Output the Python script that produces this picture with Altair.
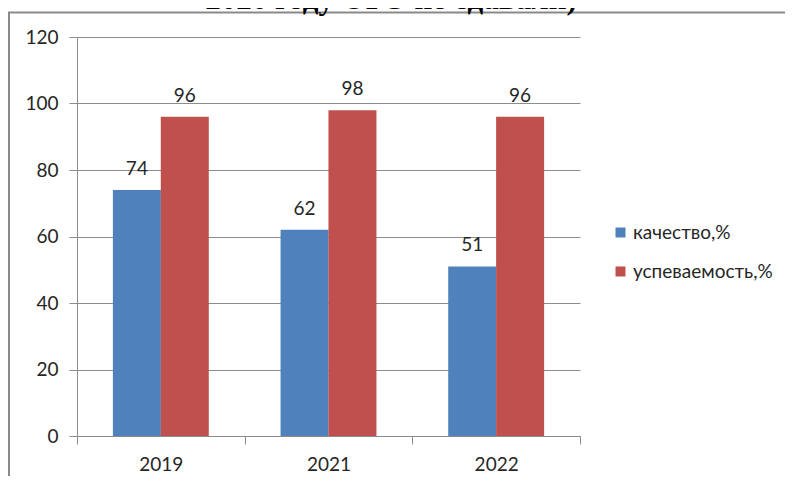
import altair as alt
import pandas as pd

years = ["2019", "2021", "2022"]
series_names = ["качество,%", "успеваемость,%"]
quality = [74, 62, 51]
success = [96, 98, 96]
colors = ["#4F81BD", "#C0504D"]
title_text = "2020 году ОГЭ не сдавали)"

rows = []
for i, y in enumerate(years):
    rows.append({"year": y, "series": series_names[0], "value": quality[i]})
    rows.append({"year": y, "series": series_names[1], "value": success[i]})
df = pd.DataFrame(rows)

FONT = "Lato"
GRID = "#8c8c8c"
TXT = "#262626"

x_enc = alt.X(
    "year:N",
    sort=years,
    scale=alt.Scale(paddingInner=0, paddingOuter=0),
    axis=alt.Axis(
        title=None,
        labelAngle=0,
        tickBand="extent",
        tickSize=8,
        tickColor=GRID,
        domainColor=GRID,
        labelFont=FONT,
        labelFontSize=19,
        labelColor=TXT,
        labelPadding=11,
        grid=False,
    ),
)
xoff_enc = alt.XOffset(
    "series:N",
    sort=series_names,
    scale=alt.Scale(paddingInner=0, paddingOuter=0.75),
)
y_enc = alt.Y(
    "value:Q",
    scale=alt.Scale(domain=[0, 120], nice=False),
    axis=alt.Axis(
        title=None,
        values=[0, 20, 40, 60, 80, 100, 120],
        tickSize=8,
        tickColor=GRID,
        domainColor=GRID,
        gridColor=GRID,
        grid=True,
        labelFont=FONT,
        labelFontSize=19,
        labelColor=TXT,
        labelPadding=11,
    ),
)

base = alt.Chart(df)

bars = base.mark_bar(size=48).encode(
    x=x_enc,
    xOffset=xoff_enc,
    y=y_enc,
    color=alt.Color(
        "series:N",
        sort=series_names,
        scale=alt.Scale(domain=series_names, range=colors),
        legend=alt.Legend(
            title=None,
            orient="none",
            legendX=534,
            legendY=186,
            symbolType="square",
            symbolSize=100,
            symbolStrokeWidth=0,
            labelFont=FONT,
            labelFontSize=19,
            labelColor=TXT,
            labelOffset=3,
            rowPadding=19,
            padding=0,
        ),
    ),
)

labels = base.mark_text(
    baseline="alphabetic", dy=-15, font=FONT, fontSize=19, color=TXT
).encode(
    x=alt.X("year:N", sort=years),
    xOffset=alt.XOffset("series:N", sort=series_names),
    y=alt.Y("value:Q"),
    text=alt.Text("value:Q"),
)

one = alt.Data(values=[{}])
frame_left = alt.Chart(one).mark_rule(color="#8a8a8a", strokeWidth=2).encode(
    x=alt.value(-68), y=alt.value(-24.5), y2=alt.value(600)
)
frame_top = alt.Chart(one).mark_rule(color="#8a8a8a", strokeWidth=2).encode(
    x=alt.value(-69), x2=alt.value(900), y=alt.value(-24.5)
)
title = alt.Chart(one).mark_text(
    text=title_text,
    font="Liberation Serif",
    fontWeight="bold",
    fontSize=31,
    color="#000000",
    baseline="alphabetic",
    align="center",
).encode(x=alt.value(314), y=alt.value(-28))

chart = (
    alt.layer(frame_left, frame_top, bars, labels, title)
    .resolve_scale(x="shared")
    .properties(
        width=503,
        height=399,
        autosize=alt.AutoSizeParams(type="none"),
        padding={"left": 69, "top": 29, "right": 205, "bottom": 40},
        background="white",
    )
    .configure_view(stroke=None)
)

chart.save("out.html", embed_options={"renderer": "svg", "actions": False})
